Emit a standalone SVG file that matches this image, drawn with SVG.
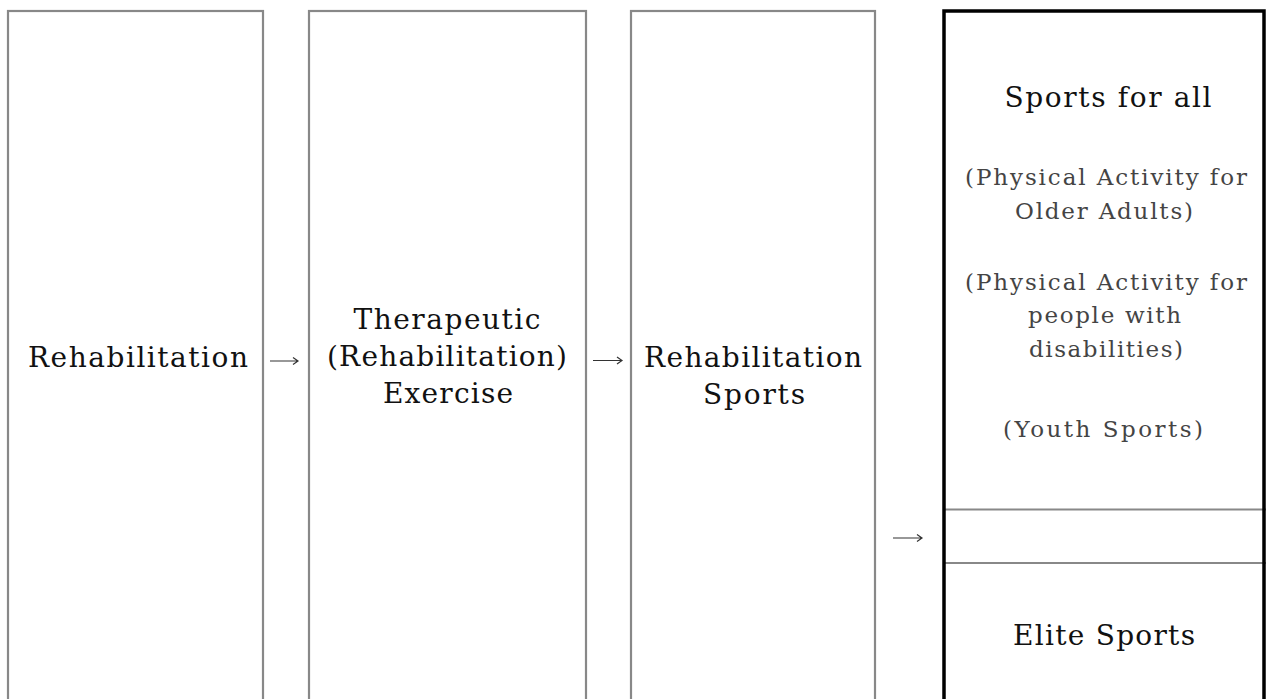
<svg xmlns="http://www.w3.org/2000/svg" width="1266" height="699" viewBox="0 0 1266 699">
<style>
.box{fill:#fff;stroke:#888;stroke-width:2.2}
.main{fill:none;stroke:#000;stroke-width:3.5}
.div{stroke:#888;stroke-width:2.2}
.t{font-family:"DejaVu Serif","Liberation Serif",serif;font-size:28px;fill:#111;text-anchor:middle}
.s{font-family:"DejaVu Serif","Liberation Serif",serif;font-size:23px;fill:#444;text-anchor:middle}
.arr{fill:none;stroke:#333;stroke-width:1.2}
</style>
<rect width="1266" height="699" fill="#fff"/>
<g id="rehabilitation">
<rect class="box" x="8" y="11" width="255" height="720"/>
<text class="t" x="138" y="367" textLength="220">Rehabilitation</text>
</g>
<g id="therapeutic-exercise">
<rect class="box" x="309" y="11" width="277" height="720"/>
<text class="t" x="447" y="329" textLength="187">Therapeutic</text>
<text class="t" x="447" y="366" textLength="240">(Rehabilitation)</text>
<text class="t" x="448" y="403" textLength="130">Exercise</text>
</g>
<g id="rehabilitation-sports">
<rect class="box" x="631" y="11" width="244" height="720"/>
<text class="t" x="753" y="367" textLength="218">Rehabilitation</text>
<text class="t" x="754" y="404" textLength="102">Sports</text>
</g>
<g id="sports-levels">
<rect fill="#fff" x="944" y="11" width="320" height="720"/>
<line class="div" x1="945" y1="509.5" x2="1266" y2="509.5"/>
<line class="div" x1="945" y1="563" x2="1266" y2="563"/>
<rect class="main" x="944" y="11" width="320" height="720"/>
<text class="t" x="1108" y="107" textLength="207">Sports for all</text>
<text class="s" x="1106" y="185" textLength="282">(Physical Activity for</text>
<text class="s" x="1104" y="219" textLength="178">Older Adults)</text>
<text class="s" x="1106" y="290" textLength="282">(Physical Activity for</text>
<text class="s" x="1104.5" y="323" textLength="153">people with</text>
<text class="s" x="1106" y="357" textLength="154">disabilities)</text>
<text class="s" x="1103" y="437" textLength="200">(Youth Sports)</text>
<text class="t" x="1104" y="645" textLength="182">Elite Sports</text>
</g>
<g id="connectors">
<path class="arr" d="M270 361 H298 M293 357.5 L298 361 L293 364.5"/>
<path class="arr" d="M593 360.5 H622 M617 357 L622 360.5 L617 364"/>
<path class="arr" d="M893 538 H922 M917 534.5 L922 538 L917 541.5"/>
</g>
</svg>
